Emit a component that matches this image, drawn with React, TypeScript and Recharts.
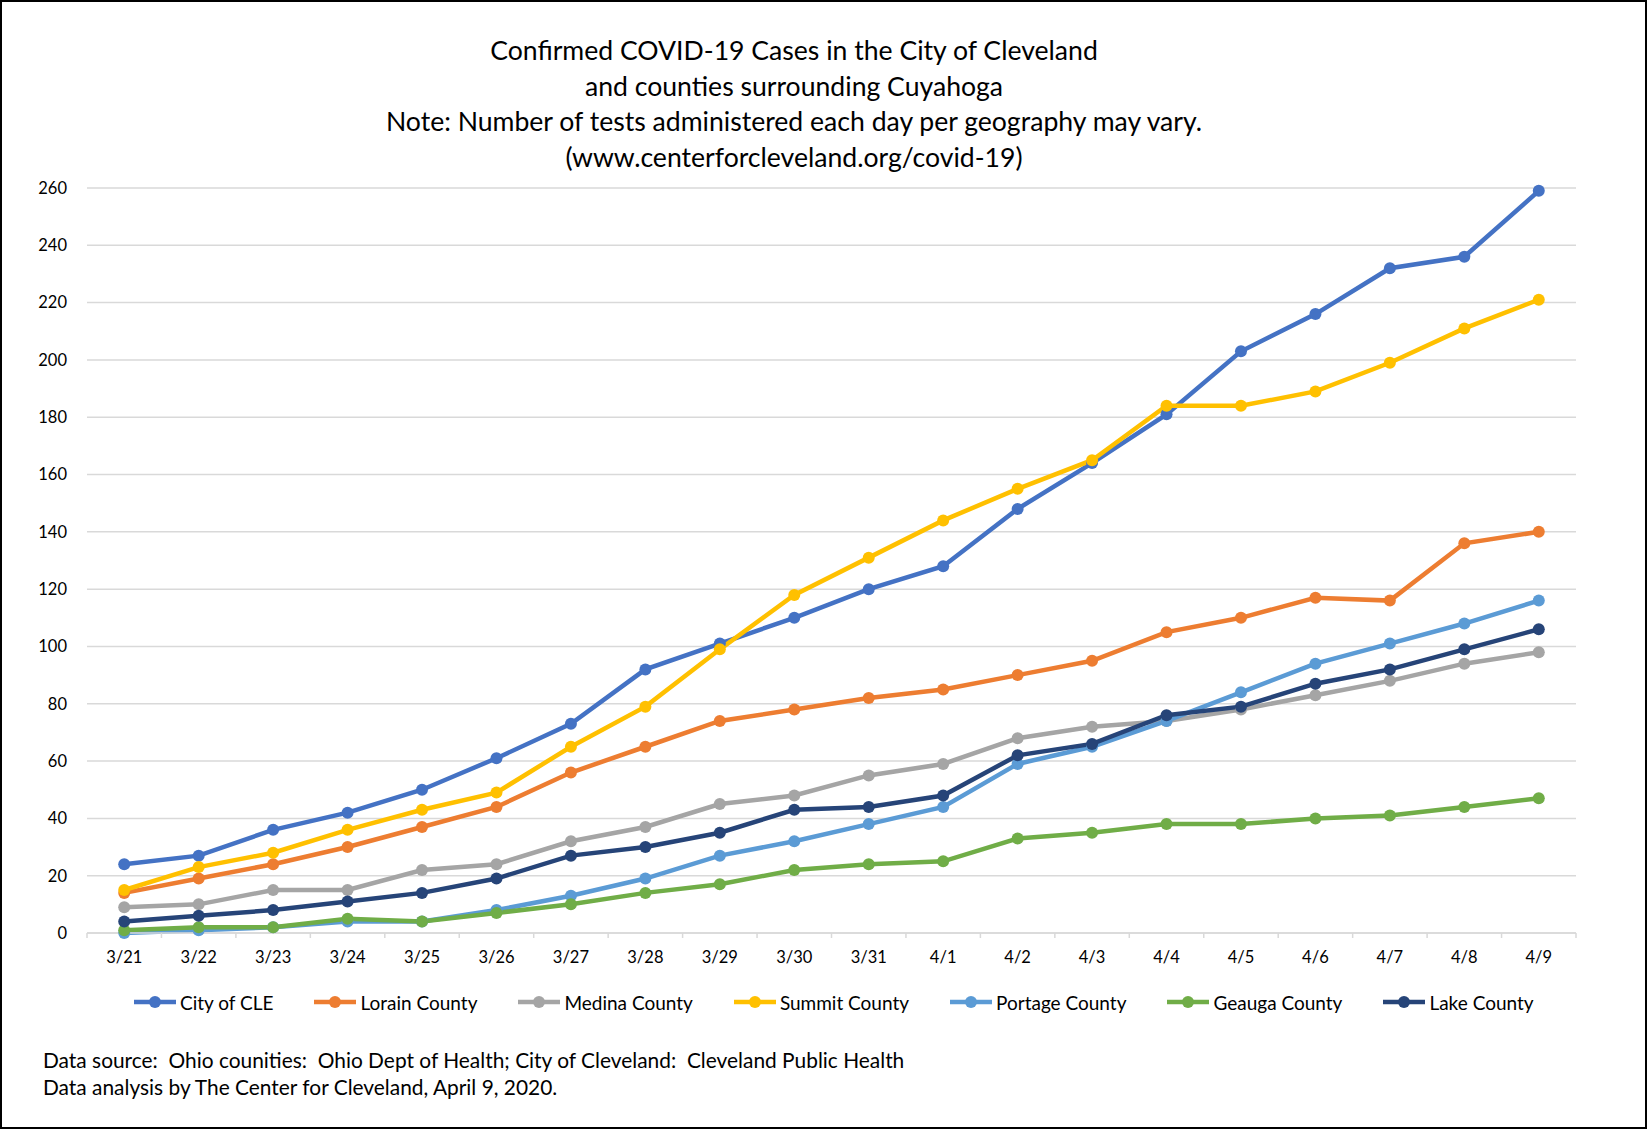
import React from 'react';
import { LineChart, Line, XAxis, YAxis, CartesianGrid } from 'recharts';

const dates = ['3/21','3/22','3/23','3/24','3/25','3/26','3/27','3/28','3/29','3/30','3/31','4/1','4/2','4/3','4/4','4/5','4/6','4/7','4/8','4/9'];
const cityCLE = [24,27,36,42,50,61,73,92,101,110,120,128,148,164,181,203,216,232,236,259];
const lorain = [14,19,24,30,37,44,56,65,74,78,82,85,90,95,105,110,117,116,136,140];
const medina = [9,10,15,15,22,24,32,37,45,48,55,59,68,72,74,78,83,88,94,98];
const summit = [15,23,28,36,43,49,65,79,99,118,131,144,155,165,184,184,189,199,211,221];
const portage = [0,1,2,4,4,8,13,19,27,32,38,44,59,65,74,84,94,101,108,116];
const geauga = [1,2,2,5,4,7,10,14,17,22,24,25,33,35,38,38,40,41,44,47];
const lake = [4,6,8,11,14,19,27,30,35,43,44,48,62,66,76,79,87,92,99,106];
const yTicks = [0,20,40,60,80,100,120,140,160,180,200,220,240,260];

const titleLines = [
  'Confirmed COVID-19 Cases in the City of Cleveland',
  'and counties surrounding Cuyahoga',
  'Note: Number of tests administered each day per geography may vary.',
  '(www.centerforcleveland.org/covid-19)',
];
const footLines = [
  'Data source:  Ohio counities:  Ohio Dept of Health; City of Cleveland:  Cleveland Public Health',
  'Data analysis by The Center for Cleveland, April 9, 2020.',
];

const series = [
  { key: 'city', name: 'City of CLE', color: '#4472C4', values: cityCLE },
  { key: 'lorain', name: 'Lorain County', color: '#ED7D31', values: lorain },
  { key: 'medina', name: 'Medina County', color: '#A5A5A5', values: medina },
  { key: 'summit', name: 'Summit County', color: '#FFC000', values: summit },
  { key: 'portage', name: 'Portage County', color: '#5B9BD5', values: portage },
  { key: 'geauga', name: 'Geauga County', color: '#70AD47', values: geauga },
  { key: 'lake', name: 'Lake County', color: '#264478', values: lake },
];

const data = dates.map((d, i) => {
  const row: Record<string, any> = { date: d };
  series.forEach((s) => { row[s.key] = s.values[i]; });
  return row;
});

const FONT = 'Lato, "Open Sans", sans-serif';
const W = 1647;
const H = 1129;
const PLOT_LEFT = 87;
const PLOT_RIGHT = 1576;
const HALF = (PLOT_RIGHT - PLOT_LEFT) / dates.length / 2;

const XTick = (props: any) => {
  const { x, y, payload, index } = props;
  return (
    <g>
      <line x1={x - HALF} x2={x - HALF} y1={y} y2={y + 5} stroke="#D9D9D9" strokeWidth={1.5} />
      {index === dates.length - 1 && (
        <line x1={x + HALF} x2={x + HALF} y1={y} y2={y + 5} stroke="#D9D9D9" strokeWidth={1.5} />
      )}
      <text x={x} y={y + 30} textAnchor="middle" fontSize={16.5} fontFamily={FONT} fill="#000">
        {payload.value}
      </text>
    </g>
  );
};

export default function App() {
  return (
    <div style={{ position: 'absolute', left: 0, top: 0, width: W, height: H, background: '#fff', fontFamily: FONT }}>
      <LineChart
        width={W}
        height={H}
        data={data}
        margin={{ top: 188, right: W - PLOT_RIGHT, bottom: 156, left: 0 }}
      >
        <CartesianGrid vertical={false} stroke="#D9D9D9" strokeWidth={1.5} />
        <XAxis
          dataKey="date"
          interval={0}
          padding={{ left: HALF, right: HALF }}
          axisLine={{ stroke: '#D9D9D9', strokeWidth: 1.5 }}
          tickLine={false}
          tickSize={0}
          tickMargin={0}
          height={40}
          tick={<XTick />}
        />
        <YAxis
          width={PLOT_LEFT}
          domain={[0, 260]}
          ticks={yTicks}
          interval={0}
          axisLine={false}
          tickLine={false}
          tickSize={0}
          tickMargin={20}
          tick={{ fontSize: 16.5, fill: '#000', fontFamily: FONT }}
        />
        {series.map((s) => (
          <Line
            key={s.key}
            type="linear"
            dataKey={s.key}
            name={s.name}
            stroke={s.color}
            strokeWidth={4.5}
            dot={{ r: 6, fill: s.color, stroke: s.color, strokeWidth: 0 }}
            activeDot={false}
            isAnimationActive={false}
          />
        ))}
      </LineChart>

      <div style={{ position: 'absolute', left: 0, top: 33, width: 1588, textAlign: 'center', fontSize: 26.6, lineHeight: '35.7px', color: '#000' }}>
        {titleLines.map((t) => (<div key={t}>{t}</div>))}
      </div>

      <div style={{ position: 'absolute', left: 134, top: 990, height: 24, display: 'flex', alignItems: 'center', gap: 41, fontSize: 19, color: '#000', whiteSpace: 'nowrap' }}>
        {series.map((s) => (
          <div key={s.key} style={{ display: 'flex', alignItems: 'center' }}>
            <svg width={42} height={14} style={{ display: 'block' }}>
              <line x1={0} x2={42} y1={7} y2={7} stroke={s.color} strokeWidth={4.5} />
              <circle cx={21} cy={7} r={6} fill={s.color} />
            </svg>
            <span style={{ marginLeft: 4 }}>{s.name}</span>
          </div>
        ))}
      </div>

      <div style={{ position: 'absolute', left: 43, top: 1046, fontSize: 20.9, lineHeight: '27px', color: '#000', whiteSpace: 'pre' }}>
        {footLines.map((t) => (<div key={t}>{t}</div>))}
      </div>

      <div style={{ position: 'absolute', left: 0, top: 0, width: W, height: H, boxSizing: 'border-box', border: '2px solid #000', pointerEvents: 'none' }} />
    </div>
  );
}
